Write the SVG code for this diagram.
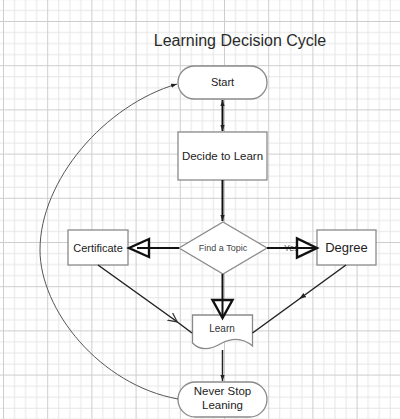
<svg xmlns="http://www.w3.org/2000/svg" width="400" height="419" viewBox="0 0 400 419">
<defs>
<pattern id="grid" x="3" y="21" width="44.2" height="44.2" patternUnits="userSpaceOnUse">
<path d="M11.55,0V44.2M22.6,0V44.2M33.65,0V44.2M0,11.55H44.2M0,22.6H44.2M0,33.65H44.2" stroke="#e6e6e6" stroke-width="1" fill="none"/>
<path d="M0.5,0V44.2M0,0.5H44.2" stroke="#cdcdcd" stroke-width="1" fill="none"/>
</pattern>
<marker id="sm" viewBox="0 0 10 10" refX="10" refY="5" markerWidth="6" markerHeight="6" orient="auto-start-reverse" markerUnits="userSpaceOnUse">
<path d="M0,1.5L10,5L0,8.5Z" fill="#222"/>
</marker>
<marker id="open" viewBox="0 0 10 10" refX="5" refY="5" markerWidth="10" markerHeight="10" orient="auto" markerUnits="userSpaceOnUse">
<path d="M0,0.5L9,5L0,9.5" fill="none" stroke="#333" stroke-width="1.2"/>
</marker>
<marker id="midf" viewBox="0 0 10 10" refX="5" refY="5" markerWidth="7" markerHeight="7" orient="auto" markerUnits="userSpaceOnUse">
<path d="M0,1.5L10,5L0,8.5Z" fill="#222"/>
</marker>
</defs>
<style>
.node{fill:#fff;stroke:#8a8a8a;stroke-width:1.3}
.t{font-family:"Liberation Sans",Arial,sans-serif;fill:#222;text-anchor:middle}
.c{fill:none;stroke:#222;stroke-width:1.5}
.thick{fill:none;stroke:#111;stroke-width:2}
.big{fill:#fff;stroke:#111;stroke-width:2.4;stroke-linejoin:miter}
</style>
<rect width="400" height="419" fill="#fff"/>
<rect width="400" height="419" fill="url(#grid)"/>
<text class="t" x="240" y="46" font-size="16" fill="#333" style="fill:#2a2a2a">Learning Decision Cycle</text>

<g id="start">
<rect class="node" x="178" y="66" width="89" height="33" rx="16.5"/>
<text class="t" x="222.5" y="86" font-size="11">Start</text>
</g>
<g id="decide">
<rect class="node" x="178" y="132" width="89" height="48"/>
<text class="t" x="222.5" y="160" font-size="11.5">Decide to Learn</text>
</g>
<g id="topic">
<polygon class="node" points="223,222 267,248 223,274 179,248"/>
<text class="t" x="223" y="251" font-size="9" style="fill:#444">Find a Topic</text>
</g>
<g id="certificate">
<rect class="node" x="68" y="230" width="60" height="35"/>
<text class="t" x="98" y="252" font-size="11">Certificate</text>
</g>
<g id="degree">
<rect class="node" x="317" y="230" width="59" height="35"/>
<text class="t" x="346.5" y="252" font-size="13">Degree</text>
</g>
<g id="learn">
<path class="node" d="M192.5,315H252.5V346C243,338 232,338 222,343C212,349 201,352 192.5,343Z"/>
<text class="t" x="222" y="332" font-size="10" style="fill:#333">Learn</text>
</g>
<g id="never">
<rect class="node" x="178" y="382" width="89" height="35" rx="17.5"/>
<text class="t" x="222.5" y="395" font-size="11.5">Never Stop</text>
<text class="t" x="222.5" y="409" font-size="11.5">Leaning</text>
</g>

<g id="connectors">
<path class="thick" d="M222.5,100V131" marker-start="url(#sm)" marker-end="url(#sm)"/>
<path class="thick" d="M222.5,180V221" marker-end="url(#sm)"/>
<polygon class="big" points="129,248 149,239 149,257"/>
<path class="thick" d="M179,248H137"/>
<text x="284" y="251" font-size="9" font-family="Liberation Sans,Arial,sans-serif" fill="#555">Yes</text>
<polygon class="big" points="317,248 297,238.5 297,257.5"/>
<path class="thick" d="M267,248H315"/>
<polygon class="big" points="222.5,318 212.5,300 232.5,300"/>
<path class="thick" d="M222.5,274V316"/>
<path class="c" d="M98,265L174,319.5L192,333" marker-mid="url(#open)"/>
<path class="c" d="M346,265L302,297L252.5,333" marker-mid="url(#midf)"/>
<path class="c" d="M222.5,350V381" marker-end="url(#sm)"/>
<path d="M178,399C100,385 40,310 40,250C40,180 105,105 177,84" fill="none" stroke="#555" stroke-width="1" marker-end="url(#sm)"/>
</g>
</svg>
